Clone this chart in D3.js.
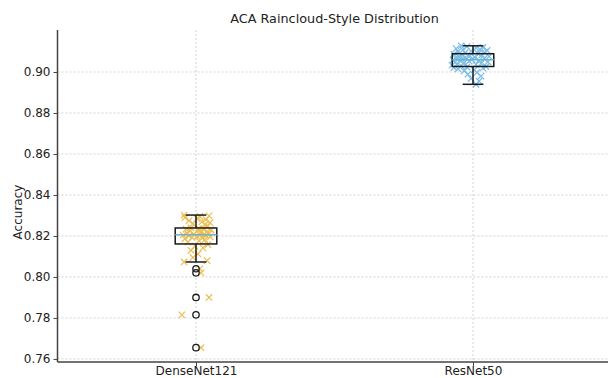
<!DOCTYPE html>
<html>
<head>
<meta charset="utf-8">
<script src="https://cdn.jsdelivr.net/npm/d3@7/dist/d3.min.js"></script>
<style>
  html, body { margin: 0; padding: 0; background: #fff; }
  svg { display: block; font-family: "DejaVu Sans", sans-serif; }
</style>
</head>
<body>
<svg id="chart" width="608" height="378"></svg>
<script>
// Model names along the x axis
const models = ["DenseNet121", "ResNet50"];

// Per-run accuracy for each model
const densenetAcc = [
  0.7655, 0.7815, 0.7900, 0.8020, 0.8040, 0.8073, 0.8080, 0.8095, 0.8112, 0.8130,
  0.8142, 0.8150, 0.8158, 0.8170, 0.8176, 0.8182, 0.8186, 0.8190, 0.8193, 0.8196,
  0.8198, 0.8200, 0.8202, 0.8204, 0.8205, 0.8206, 0.8208, 0.8211, 0.8214, 0.8218,
  0.8221, 0.8224, 0.8227, 0.8230, 0.8233, 0.8235, 0.8236, 0.8240, 0.8248, 0.8255,
  0.8260, 0.8265, 0.8270, 0.8275, 0.8280, 0.8285, 0.8290, 0.8295, 0.8298, 0.8302
];
const resnetAcc = [
  0.8940, 0.8955, 0.8968, 0.8980, 0.8990, 0.8998, 0.9005, 0.9010, 0.9015, 0.9019,
  0.9022, 0.9024, 0.9026, 0.9030, 0.9033, 0.9036, 0.9039, 0.9042, 0.9045, 0.9048,
  0.9050, 0.9053, 0.9055, 0.9057, 0.9059, 0.9061, 0.9063, 0.9065, 0.9067, 0.9069,
  0.9071, 0.9074, 0.9076, 0.9079, 0.9081, 0.9084, 0.9087, 0.9090, 0.9093, 0.9096,
  0.9099, 0.9102, 0.9105, 0.9108, 0.9111, 0.9114, 0.9117, 0.9120, 0.9124, 0.9128
];

// Horizontal jitter of each run (in category units) for the "rain" layer
const densenetJitter = [
  0.018, -0.051, 0.047, 0.018, 0.014, -0.043, 0.040, -0.011, 0.007, -0.018,
  0.025, -0.004, 0.043, -0.029, 0.011, 0.032, -0.040, 0.022, -0.014, 0.051,
  0.004, -0.025, 0.036, -0.047, 0.014, 0.029, -0.007, 0.047, -0.032, 0.018,
  0.040, -0.022, 0.007, 0.054, -0.036, 0.025, 0.011, -0.018, 0.043, 0.032,
  -0.011, 0.051, 0.022, -0.025, 0.036, 0.004, -0.040, 0.014, 0.047, -0.043
];
const resnetJitter = [
  0.011, 0.022, -0.007, 0.029, -0.018, 0.014, -0.032, 0.004, -0.054, 0.036,
  -0.069, -0.022, 0.047, -0.043, -0.076, 0.011, -0.058, 0.029, -0.032, -0.065,
  0.054, -0.014, -0.047, 0.022, -0.072, -0.004, -0.036, 0.040, -0.061, -0.025,
  0.007, -0.051, 0.058, -0.011, -0.040, 0.032, -0.069, 0.018, -0.029, 0.043,
  -0.054, -0.007, 0.051, -0.036, 0.025, -0.061, 0.011, 0.036, -0.022, -0.043
];

const yTicks = [0.76, 0.78, 0.80, 0.82, 0.84, 0.86, 0.88, 0.90];

const groups = [
  { name: models[0], values: densenetAcc, jitter: densenetJitter, color: "#e8a81c" },
  { name: models[1], values: resnetAcc, jitter: resnetJitter, color: "#4ea8e2" }
];

const svg = d3.select("#chart");
const plot = { left: 57.5, right: 611.5, top: 30, bottom: 362 };

// Categories sit at positions 1 and 2 with half a unit of padding each side
const x = d3.scaleLinear().domain([0.5, 2.5]).range([plot.left, plot.right]);
const y = d3.scaleLinear().domain([0.7585, 0.9205]).range([plot.bottom, plot.top]);

// Dotted grid
const grid = svg.append("g").attr("stroke", "#c8c8c8").attr("stroke-width", 0.8)
  .attr("stroke-dasharray", "2,2");
grid.selectAll("line.h").data(yTicks).join("line")
  .attr("x1", plot.left).attr("x2", plot.right)
  .attr("y1", d => y(d)).attr("y2", d => y(d));
grid.selectAll("line.v").data(models).join("line")
  .attr("x1", (d, i) => x(i + 1)).attr("x2", (d, i) => x(i + 1))
  .attr("y1", plot.top).attr("y2", plot.bottom);

// Jittered raw points drawn as x markers
const mk = 3.2;
groups.forEach((g, gi) => {
  const layer = svg.append("g").attr("stroke", g.color).attr("stroke-width", 1.2)
    .attr("opacity", 0.75);
  g.values.forEach((v, i) => {
    const cx = x(gi + 1 + g.jitter[i]), cy = y(v);
    layer.append("path")
      .attr("d", `M${cx - mk},${cy - mk}L${cx + mk},${cy + mk}M${cx - mk},${cy + mk}L${cx + mk},${cy - mk}`);
  });
});

// Box plots (1.5 IQR whiskers, outliers as open circles)
const boxHalf = 0.075, capHalf = 0.0375;
groups.forEach((g, gi) => {
  const s = g.values.slice().sort(d3.ascending);
  const q1 = d3.quantile(s, 0.25), med = d3.quantile(s, 0.5), q3 = d3.quantile(s, 0.75);
  const iqr = q3 - q1;
  const lo = d3.min(s.filter(v => v >= q1 - 1.5 * iqr));
  const hi = d3.max(s.filter(v => v <= q3 + 1.5 * iqr));
  const outliers = s.filter(v => v < lo || v > hi);
  const c = gi + 1;
  const b = svg.append("g").attr("stroke", "#1a1a1a").attr("stroke-width", 1.5).attr("fill", "none");
  b.append("rect")
    .attr("x", x(c - boxHalf)).attr("width", x(c + boxHalf) - x(c - boxHalf))
    .attr("y", y(q3)).attr("height", y(q1) - y(q3));
  b.append("line").attr("x1", x(c)).attr("x2", x(c)).attr("y1", y(q3)).attr("y2", y(hi));
  b.append("line").attr("x1", x(c)).attr("x2", x(c)).attr("y1", y(q1)).attr("y2", y(lo));
  [hi, lo].forEach(v => b.append("line")
    .attr("x1", x(c - capHalf)).attr("x2", x(c + capHalf)).attr("y1", y(v)).attr("y2", y(v)));
  b.append("line").attr("stroke", "#6cb4c8")
    .attr("x1", x(c - boxHalf)).attr("x2", x(c + boxHalf)).attr("y1", y(med)).attr("y2", y(med));
  b.selectAll("circle").data(outliers).join("circle")
    .attr("cx", x(c)).attr("cy", d => y(d)).attr("r", 3.2).attr("stroke-width", 1.3);
});

// Axes
const yAxis = svg.append("g").attr("transform", `translate(${plot.left},0)`)
  .call(d3.axisLeft(y).tickValues(yTicks).tickFormat(d3.format(".2f")).tickSizeOuter(0).tickSize(4).tickPadding(3));
const xAxis = svg.append("g").attr("transform", `translate(0,${plot.bottom})`)
  .call(d3.axisBottom(x).tickValues([1, 2]).tickFormat((d) => models[d - 1]).tickSizeOuter(0).tickSize(4).tickPadding(0));
[yAxis, xAxis].forEach(a => {
  a.select(".domain").attr("stroke", "#444").attr("stroke-width", 1.5);
  a.selectAll(".tick line").attr("stroke", "#444");
  a.selectAll(".tick text").attr("fill", "#222").attr("font-size", 12)
    .attr("font-family", "DejaVu Sans, sans-serif");
});
yAxis.select(".domain").attr("d", `M0,${plot.top}V${plot.bottom}`);
xAxis.select(".domain").attr("d", `M${plot.left},0H${plot.right}`);

// Labels
svg.append("text").attr("x", (plot.left + plot.right) / 2).attr("y", 23)
  .attr("text-anchor", "middle").attr("font-size", 12.8).attr("fill", "#222")
  .text("ACA Raincloud-Style Distribution");
svg.append("text").attr("transform", `translate(22,212) rotate(-90)`)
  .attr("text-anchor", "middle").attr("font-size", 12).attr("fill", "#222")
  .text("Accuracy");
</script>
</body>
</html>
